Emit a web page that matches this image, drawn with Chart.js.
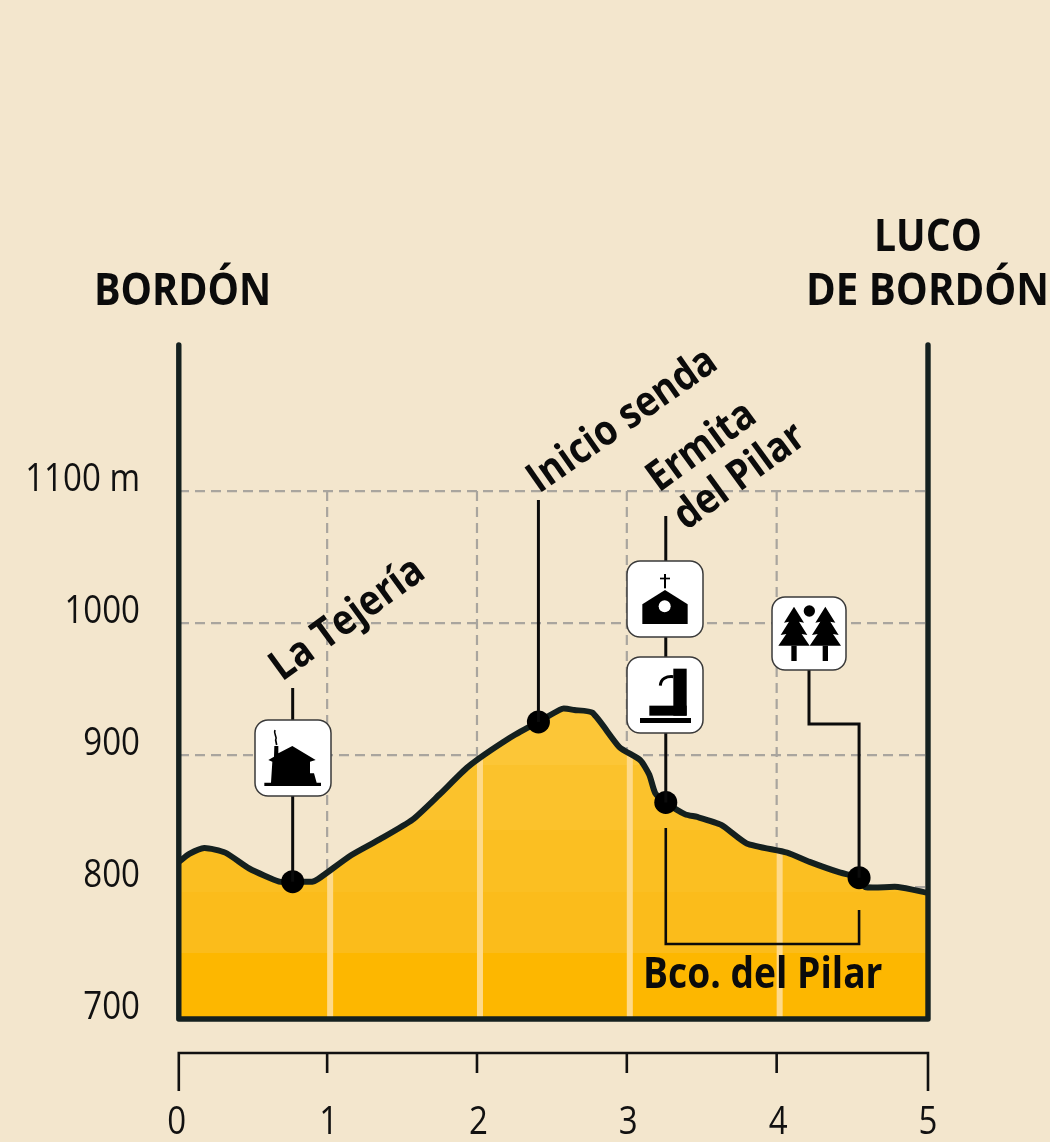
<!DOCTYPE html>
<html lang="es">
<head>
<meta charset="UTF-8">
<title>Perfil Bordón - Luco de Bordón</title>
<style>
html, body { margin: 0; padding: 0; background: #F3E6CD; }
canvas { display: block; }
</style>
</head>
<body>
<canvas id="perfil" width="1050" height="1142"></canvas>
<script src="https://cdn.jsdelivr.net/npm/chart.js"></script>
<script>
// distance (km) and elevation (m)
const km = [0, 0.07, 0.17, 0.31, 0.47, 0.67, 0.76, 0.89, 0.93, 1.15, 1.34, 1.56, 1.74, 1.93, 2.21, 2.40, 2.56, 2.64, 2.76, 2.94, 3.08, 3.14, 3.18, 3.25, 3.38, 3.46, 3.62, 3.79, 4.06, 4.21, 4.41, 4.54, 4.58, 4.80, 5];
const elevation = [819, 825, 829.5, 826, 814, 804, 804, 804, 806, 824, 836, 851, 870, 891, 913, 925, 935, 934, 932, 906, 896, 885, 871, 864, 855, 853, 847, 833, 826, 819, 811, 807, 800, 800, 795.5];
const stopKm = [0.76, 2.40, 3.25, 4.54];
const stopElevation = [804, 925, 864, 807];
const kmTicks = [0, 1, 2, 3, 4, 5];
const elevationTicks = [700, 800, 900, 1000, 1100];
const bandLimits = [892, 843, 796, 750];
const bandColors = ['#FCC637', '#FBC22C', '#FBBF22', '#FBBC1B', '#FDB700'];

const INK = '#14201F';
const heading = '"Open Sans", sans-serif';

function label(ctx, text, x, y, size, angle, squeeze) {
  ctx.save();
  ctx.translate(x, y);
  ctx.rotate(angle * Math.PI / 180);
  ctx.scale(squeeze, 1);
  ctx.font = '700 ' + size + 'px ' + heading;
  ctx.fillStyle = '#0B0B0B';
  ctx.textAlign = 'left';
  ctx.textBaseline = 'alphabetic';
  ctx.fillText(text, 0, 0);
  ctx.restore();
}

// thin narrow tick text, no condensed font is installed so it is squeezed by hand
function tickText(ctx, text, x, y, align) {
  ctx.save();
  ctx.translate(x, y);
  ctx.scale(0.87, 1);
  ctx.font = '400 38px ' + heading;
  ctx.fillStyle = '#111';
  ctx.textAlign = align;
  ctx.textBaseline = 'alphabetic';
  ctx.fillText(text, 0, 0);
  ctx.restore();
}

function polyline(ctx, pts, width) {
  ctx.beginPath();
  pts.forEach((p, i) => i ? ctx.lineTo(p[0], p[1]) : ctx.moveTo(p[0], p[1]));
  ctx.lineWidth = width;
  ctx.stroke();
}

function poly(ctx, pts) {
  ctx.beginPath();
  pts.forEach((p, i) => i ? ctx.lineTo(p[0], p[1]) : ctx.moveTo(p[0], p[1]));
  ctx.closePath();
  ctx.fill();
}

function box(ctx, x, y, w, h) {
  ctx.beginPath();
  ctx.roundRect(x, y, w, h, 13);
  ctx.fillStyle = '#FFFFFF';
  ctx.fill();
  ctx.lineWidth = 1.5;
  ctx.strokeStyle = '#3A3A3A';
  ctx.stroke();
}

function house(ctx) {
  ctx.save();
  ctx.translate(245, 710);
  ctx.scale(1 / 3, 1 / 3);
  ctx.fillStyle = '#000';
  ctx.strokeStyle = '#000';
  poly(ctx, [[88, 108], [100, 108], [100, 130], [142, 108], [212, 150], [195, 155], [195, 190], [207, 190], [215, 218], [228, 218], [228, 228], [58, 228], [58, 218], [78, 218], [82, 155], [70, 150], [87, 140]]);
  ctx.beginPath();
  ctx.moveTo(90, 60);
  ctx.bezierCurveTo(84, 72, 98, 78, 92, 90);
  ctx.lineTo(95, 105);
  ctx.lineWidth = 5;
  ctx.stroke();
  ctx.restore();
}

function church(ctx) {
  ctx.save();
  ctx.translate(610, 550);
  ctx.scale(1 / 3, 1 / 3);
  ctx.fillStyle = '#000';
  ctx.fillRect(162, 72, 6, 43);
  ctx.fillRect(150, 83, 30, 5);
  poly(ctx, [[165, 120], [233, 163], [233, 222], [97, 222], [97, 163]]);
  ctx.beginPath();
  ctx.arc(164, 169, 18, 0, Math.PI * 2);
  ctx.fillStyle = '#fff';
  ctx.fill();
  ctx.restore();
}

function fountain(ctx) {
  ctx.save();
  ctx.translate(610, 550);
  ctx.scale(1 / 3, 1 / 3);
  ctx.fillStyle = '#000';
  ctx.strokeStyle = '#000';
  ctx.fillRect(190, 356, 40, 141);
  ctx.fillRect(118, 467, 112, 30);
  ctx.fillRect(90, 504, 153, 15);
  ctx.beginPath();
  ctx.moveTo(190, 380);
  ctx.bezierCurveTo(170, 378, 152, 385, 151, 407);
  ctx.lineWidth = 9;
  ctx.stroke();
  ctx.restore();
}

function tree(ctx, c) {
  poly(ctx, [[c, 170], [c + 30, 218], [c + 15, 215], [c + 40, 255], [c + 23, 252], [c + 47, 287], [c - 47, 287], [c - 23, 252], [c - 40, 255], [c - 15, 215], [c - 30, 218]]);
  ctx.fillRect(c - 8, 287, 16, 46);
}

function forest(ctx) {
  ctx.save();
  ctx.translate(610, 550);
  ctx.scale(1 / 3, 1 / 3);
  ctx.fillStyle = '#000';
  tree(ctx, 552);
  tree(ctx, 646);
  ctx.beginPath();
  ctx.arc(598, 183, 17, 0, Math.PI * 2);
  ctx.fill();
  ctx.restore();
}

// dashed km lines stop at the 1100 m line, so they do not run the full chart height
const kmGrid = {
  id: 'kmGrid',
  beforeDatasetsDraw(chart) {
    const { ctx, scales: { x, y } } = chart;
    ctx.save();
    ctx.strokeStyle = '#A9A59E';
    ctx.setLineDash([10, 6]);
    kmTicks.slice(1, 5).forEach(v => {
      const px = x.getPixelForValue(v) - 1.5;
      polyline(ctx, [[px, y.getPixelForValue(1100)], [px, y.getPixelForValue(700)]], 2.2);
    });
    ctx.restore();
  }
};

// pale stripes inside the filled area
const stripes = {
  id: 'stripes',
  afterDatasetDraw(chart, args) {
    if (args.index !== 0) return;
    const { ctx, chartArea, scales: { x, y } } = chart;
    const pts = args.meta.data;
    ctx.save();
    ctx.beginPath();
    ctx.moveTo(pts[0].x, y.getPixelForValue(700));
    pts.forEach(p => ctx.lineTo(p.x, p.y));
    ctx.lineTo(pts[pts.length - 1].x, y.getPixelForValue(700));
    ctx.closePath();
    ctx.clip();
    ctx.fillStyle = '#FEDA8A';
    kmTicks.slice(1, 5).forEach(v => {
      ctx.fillRect(x.getPixelForValue(v) - 1.5, chartArea.top, 6, chartArea.height);
    });
    ctx.restore();
  }
};

const extras = {
  id: 'extras',
  afterDatasetsDraw(chart) {
    const { ctx, chartArea: a, scales: { x, y } } = chart;
    ctx.save();
    ctx.lineCap = 'round';
    ctx.lineJoin = 'round';

    // frame
    ctx.strokeStyle = INK;
    polyline(ctx, [[a.left, a.top + 2], [a.left, a.bottom], [a.right, a.bottom], [a.right, a.top + 2]], 5.4);
    ctx.lineCap = 'butt';
    ctx.lineJoin = 'miter';

    // km bracket under the chart
    ctx.strokeStyle = '#111';
    const top = a.bottom + 34;
    polyline(ctx, [[a.left, top + 38], [a.left, top], [a.right, top], [a.right, top + 38]], 2.6);
    kmTicks.slice(1, 5).forEach(v => {
      const px = x.getPixelForValue(v) - 1.5;
      polyline(ctx, [[px, top], [px, top + 20]], 2.6);
    });

    // tick text
    x.ticks.forEach(t => {
      tickText(ctx, String(t.value), x.getPixelForValue(t.value) - (t.value === 0 ? 2 : 0), 1134, 'center');
    });
    y.ticks.forEach(t => {
      tickText(ctx, t.value === 1100 ? '1100 m' : String(t.value), 140, y.getPixelForValue(t.value), 'right');
    });

    // leaders
    ctx.strokeStyle = '#0B0B0B';
    const sx = stopKm.map(v => x.getPixelForValue(v));
    const sy = stopElevation.map(v => y.getPixelForValue(v));
    polyline(ctx, [[sx[0], 688], [sx[0], sy[0]]], 3);
    polyline(ctx, [[sx[1], 500], [sx[1], sy[1]]], 3);
    polyline(ctx, [[sx[2], 516], [sx[2], sy[2]]], 3);
    polyline(ctx, [[809, 670], [809, 724], [sx[3], 724], [sx[3], sy[3]]], 3);
    polyline(ctx, [[sx[2], 828], [sx[2], 944], [sx[3], 944], [sx[3], 910]], 2.6);

    // sign boxes
    box(ctx, 255, 720, 76, 76);
    box(ctx, 627, 561, 76, 76);
    box(ctx, 627, 657, 76, 76);
    box(ctx, 772, 597, 74, 73);
    house(ctx);
    church(ctx);
    fountain(ctx);
    forest(ctx);

    // place names
    label(ctx, 'BORDÓN', 94, 305, 44, 0, 0.9);
    label(ctx, 'LUCO', 874, 251, 44, 0, 0.89);
    label(ctx, 'DE BORDÓN', 806, 305, 44, 0, 0.915);
    label(ctx, 'La Tejería', 282, 682, 42, -36, 0.88);
    label(ctx, 'Inicio senda', 539, 494, 42, -35, 0.88);
    label(ctx, 'Ermita', 659, 493, 42, -36, 0.88);
    label(ctx, 'del Pilar', 686, 531, 42, -36, 0.88);
    label(ctx, 'Bco. del Pilar', 643, 988, 42.3, 0, 0.88);
    ctx.restore();
  }
};

const profile = km.map((v, i) => ({ x: v, y: elevation[i] }));
const stops = stopKm.map((v, i) => ({ x: v, y: stopElevation[i] }));

new Chart(document.getElementById('perfil'), {
  type: 'line',
  data: {
    datasets: [
      {
        // fill only
        data: profile,
        order: 3,
        borderWidth: 0,
        pointRadius: 0,
        tension: 0.2,
        fill: 'origin',
        backgroundColor(c) {
          const { chartArea, scales } = c.chart;
          if (!chartArea) return bandColors[4];
          const g = c.chart.ctx.createLinearGradient(0, chartArea.top, 0, chartArea.bottom);
          const pos = v => (scales.y.getPixelForValue(v) - chartArea.top) / chartArea.height;
          g.addColorStop(0, bandColors[0]);
          bandLimits.forEach((v, i) => {
            g.addColorStop(pos(v), bandColors[i]);
            g.addColorStop(pos(v), bandColors[i + 1]);
          });
          g.addColorStop(1, bandColors[4]);
          return g;
        }
      },
      {
        data: profile,
        order: 2,
        borderColor: INK,
        borderWidth: 6,
        pointRadius: 0,
        fill: false,
        tension: 0.2,
        borderJoinStyle: 'round'
      },
      {
        data: stops,
        order: 1,
        showLine: false,
        pointRadius: 11.5,
        pointBackgroundColor: '#000',
        pointBorderWidth: 0
      }
    ]
  },
  options: {
    responsive: false,
    animation: false,
    layout: { padding: { top: 343, right: 122, left: 0, bottom: 0 } },
    plugins: { legend: { display: false }, tooltip: { enabled: false } },
    scales: {
      x: {
        type: 'linear',
        min: 0,
        max: 5,
        afterFit: s => { s.height = 123; },
        afterBuildTicks: s => { s.ticks = kmTicks.map(v => ({ value: v })); },
        grid: { display: false },
        border: { display: false },
        ticks: { display: false }
      },
      y: {
        type: 'linear',
        min: 700,
        max: 1212,
        afterFit: s => { s.width = 178.8; },
        afterBuildTicks: s => { s.ticks = elevationTicks.map(v => ({ value: v })); },
        grid: {
          color: c => (c.tick && c.tick.value === 700 ? 'transparent' : '#A9A59E'),
          lineWidth: 2.2,
          drawTicks: false
        },
        border: { display: false, dash: [10, 6] },
        ticks: { display: false }
      }
    }
  },
  plugins: [kmGrid, stripes, extras]
});
</script>
</body>
</html>
